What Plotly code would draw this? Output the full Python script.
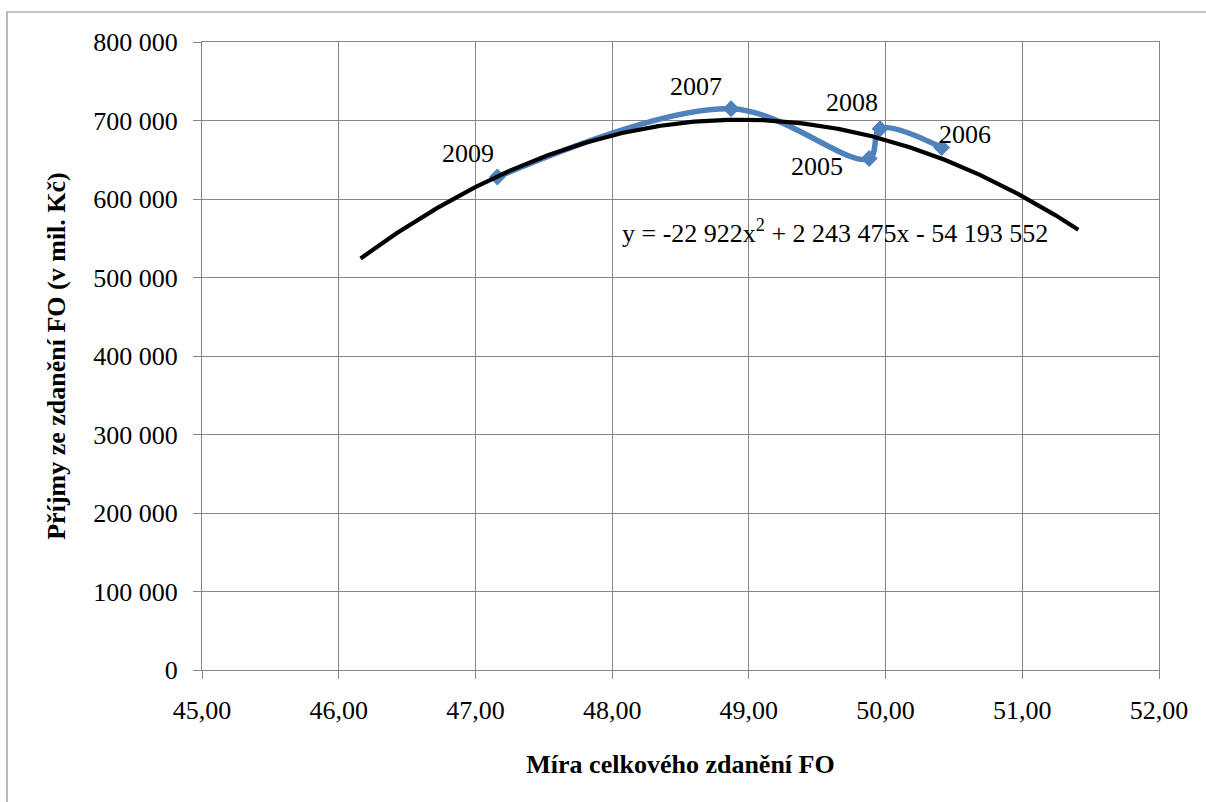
import numpy as np
import plotly.graph_objects as go

# ---- data ----
YEARS = ["2009", "2007", "2005", "2008", "2006"]
TAX_RATE = [47.16, 48.87, 49.88, 49.96, 50.41]          # Míra celkového zdanění FO
REVENUE = [628000, 715000, 651500, 689500, 665500]      # Příjmy ze zdanění FO (v mil. Kč)
TREND_COEFFS = [-22922, 2243475, -54193552]             # from the equation label
TREND_EXTEND = 1.0                                      # forecast forward/backward
EQUATION = "y = -22 922x<sup>2</sup> + 2 243 475x - 54 193 552"
X_TICKS = [45, 46, 47, 48, 49, 50, 51, 52]
Y_TICKS = [0, 100000, 200000, 300000, 400000, 500000, 600000, 700000, 800000]

# label offsets (pixels) per point
LABEL_SHIFT = {"2009": (-29, 24), "2007": (-35, 22), "2005": (-52, -8),
               "2008": (-28, 26), "2006": (23, 13)}

FONT = "Liberation Serif, Times New Roman, serif"
GRID = "#868686"
BLUE = "#4F81BD"
FS = 26

xt = np.linspace(min(TAX_RATE) - TREND_EXTEND, max(TAX_RATE) + TREND_EXTEND, 300)
yt = np.polyval(TREND_COEFFS, xt)

fig = go.Figure()
fig.add_trace(go.Scatter(
    x=TAX_RATE, y=REVENUE, mode="lines+markers",
    line=dict(color=BLUE, width=5.5, shape="spline", smoothing=1),
    marker=dict(symbol="diamond", size=13, color=BLUE),
    showlegend=False, hoverinfo="skip"))
fig.add_trace(go.Scatter(
    x=xt, y=yt, mode="lines", line=dict(color="black", width=4.2),
    showlegend=False, hoverinfo="skip"))

for yr, xv, yv in zip(YEARS, TAX_RATE, REVENUE):
    dx, dy = LABEL_SHIFT[yr]
    fig.add_annotation(x=xv, y=yv, text=yr, showarrow=False,
                       xshift=dx, yshift=dy, font=dict(family=FONT, size=FS, color="black"))

fig.add_annotation(x=49.63, y=559000, text=EQUATION, showarrow=False,
                   font=dict(family=FONT, size=FS, color="black"))

# outer chart border
fig.add_shape(type="rect", xref="paper", yref="paper",
              x0=-0.2038, x1=1.06, y0=-0.24, y1=1.0478,
              line=dict(color="#8a8a8a", width=1.2), fillcolor="rgba(0,0,0,0)", layer="below")

axis_common = dict(showgrid=True, gridcolor=GRID, gridwidth=1,
                   showline=True, linecolor=GRID, linewidth=1, mirror=True,
                   ticks="outside", ticklen=8, tickcolor=GRID, tickwidth=1,
                   zeroline=False,
                   tickfont=dict(family=FONT, size=FS, color="black"))

fig.update_xaxes(range=[45, 52], tickvals=X_TICKS, tickformat=".2f",
                 title=dict(text="<b>Míra celkového zdanění FO</b>", standoff=30,
                            font=dict(family=FONT, size=FS, color="black")),
                 ticklabelstandoff=9, **axis_common)
fig.update_yaxes(range=[0, 800000], tickvals=Y_TICKS, tickformat=",d",
                 title=dict(text="<b>Příjmy ze zdanění FO (v mil. Kč)</b>", standoff=20,
                            font=dict(family=FONT, size=FS, color="black")),
                 ticklabelstandoff=10, **axis_common)

fig.update_layout(
    width=1206, height=802, separators=", ",
    margin=dict(l=202, r=47, t=42, b=132, autoexpand=False),
    paper_bgcolor="white", plot_bgcolor="white",
    font=dict(family=FONT, size=FS, color="black"),
)

fig.write_html("out.html", config={"displayModeBar": False},
               post_script="document.body.style.margin='0';document.body.style.overflow='hidden';")
